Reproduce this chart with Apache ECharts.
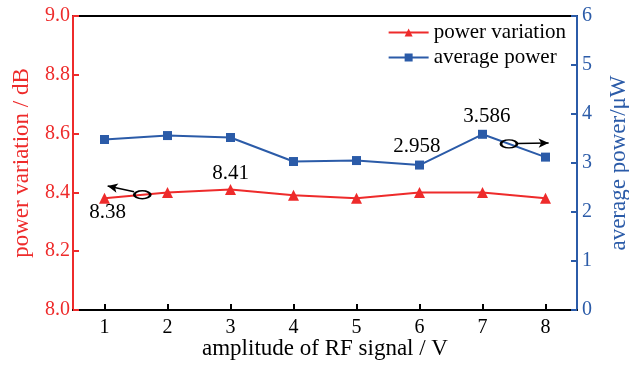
<!DOCTYPE html>
<html>
<head>
<meta charset="utf-8">
<script src="https://cdn.jsdelivr.net/npm/echarts@6/dist/echarts.min.js"></script>
<style>
  html, body { margin: 0; padding: 0; background: #fff; }
  #main { width: 629px; height: 365px; }
</style>
</head>
<body>
<div id="main"></div>
<script>
var amplitude = [1, 2, 3, 4, 5, 6, 7, 8];
var powerVariation = [8.38, 8.40, 8.41, 8.39, 8.38, 8.40, 8.40, 8.38];
var averagePower = [3.48, 3.56, 3.52, 3.03, 3.05, 2.958, 3.586, 3.12];

var RED = '#ee2b2b';
var BLUE = '#2b5ba8';
var FONT = '"Liberation Serif", "Times New Roman", serif';

function pairs(xs, ys) {
  var out = [];
  for (var i = 0; i < xs.length; i++) out.push([xs[i], ys[i]]);
  return out;
}

function note(text, x, y) {
  return {
    coord: [x, y], value: text, symbol: 'circle', symbolSize: 0,
    label: { show: true, position: 'inside', formatter: text,
      color: '#000', fontSize: 21, fontFamily: FONT }
  };
}
function ring(x, y) {
  return {
    coord: [x, y], symbol: 'circle', symbolSize: [16, 8],
    itemStyle: { color: 'rgba(0,0,0,0)', borderColor: '#000', borderWidth: 2 },
    label: { show: false }
  };
}

var chart = echarts.init(document.getElementById('main'));

var option = {
  animation: false,
  textStyle: { fontFamily: FONT },
  grid: {
    left: 73, right: 52, top: 16, bottom: 55,
    containLabel: false, outerBoundsMode: 'none',
    show: true, borderColor: '#000', borderWidth: 2
  },
  legend: {
    orient: 'vertical',
    right: 58, top: 17,
    itemWidth: 40, itemHeight: 10, itemGap: 4,
    textStyle: { fontSize: 21, fontFamily: FONT, color: '#000' },
    data: ['power variation', 'average power']
  },
  xAxis: {
    type: 'value',
    min: 0.5, max: 8.5,
    name: 'amplitude of RF signal / V',
    nameLocation: 'middle', nameGap: 27, nameMoveOverlap: false,
    nameTextStyle: { fontSize: 23, fontFamily: FONT, color: '#000' },
    axisLine: { show: true, lineStyle: { color: '#000', width: 2 } },
    axisTick: { show: true, inside: true, length: 6, customValues: amplitude,
      lineStyle: { color: '#000', width: 2 } },
    axisLabel: { customValues: amplitude, fontSize: 20, fontFamily: FONT, color: '#000', margin: 8 },
    splitLine: { show: false }
  },
  yAxis: [
    {
      type: 'value', min: 8, max: 9, interval: 0.2,
      position: 'left',
      name: 'power variation / dB',
      nameLocation: 'middle', nameGap: 40, nameMoveOverlap: false,
      nameTextStyle: { fontSize: 23, fontFamily: FONT, color: RED },
      axisLine: { show: true, lineStyle: { color: RED, width: 2 } },
      axisTick: { show: true, inside: true, length: 6, lineStyle: { color: RED, width: 2 } },
      axisLabel: { fontSize: 20, fontFamily: FONT, color: RED, margin: 3,
        formatter: function (v) { return v.toFixed(1); } },
      splitLine: { show: false }
    },
    {
      type: 'value', min: 0, max: 6, interval: 1,
      position: 'right',
      name: 'average power/μW',
      nameLocation: 'middle', nameGap: 30, nameMoveOverlap: false,
      nameRotate: 90,
      nameTextStyle: { fontSize: 23, fontFamily: FONT, color: BLUE },
      axisLine: { show: true, lineStyle: { color: BLUE, width: 2 } },
      axisTick: { show: true, inside: true, length: 6, lineStyle: { color: BLUE, width: 2 } },
      axisLabel: { fontSize: 20, fontFamily: FONT, color: BLUE, margin: 5 },
      splitLine: { show: false }
    }
  ],
  series: [
    {
      name: 'power variation',
      type: 'line',
      yAxisIndex: 0,
      data: pairs(amplitude, powerVariation),
      symbol: 'triangle', symbolSize: 11,
      lineStyle: { color: RED, width: 2 },
      itemStyle: { color: RED },
      markPoint: {
        silent: true,
        data: [
          note('8.38', 1.05, 8.33),
          note('8.41', 3.0, 8.466),
          ring(1.6, 8.392)
        ]
      },
      markLine: {
        silent: true,
        symbol: ['none', 'arrow'], symbolSize: [7, 10],
        lineStyle: { color: '#000', width: 1.5, type: 'solid' },
        label: { show: false },
        data: [[{ coord: [1.47, 8.402] }, { coord: [1.05, 8.422] }]]
      }
    },
    {
      name: 'average power',
      type: 'line',
      yAxisIndex: 1,
      data: pairs(amplitude, averagePower),
      symbol: 'rect', symbolSize: 9,
      lineStyle: { color: BLUE, width: 2 },
      itemStyle: { color: BLUE },
      markPoint: {
        silent: true,
        data: [
          note('2.958', 5.96, 3.33),
          note('3.586', 7.07, 3.94),
          ring(7.42, 3.39)
        ]
      },
      markLine: {
        silent: true,
        symbol: ['none', 'arrow'], symbolSize: [7, 10],
        lineStyle: { color: '#000', width: 1.5, type: 'solid' },
        label: { show: false },
        data: [[{ coord: [7.55, 3.4] }, { coord: [8.05, 3.41] }]]
      }
    }
  ]
};

chart.setOption(option);
</script>
</body>
</html>
